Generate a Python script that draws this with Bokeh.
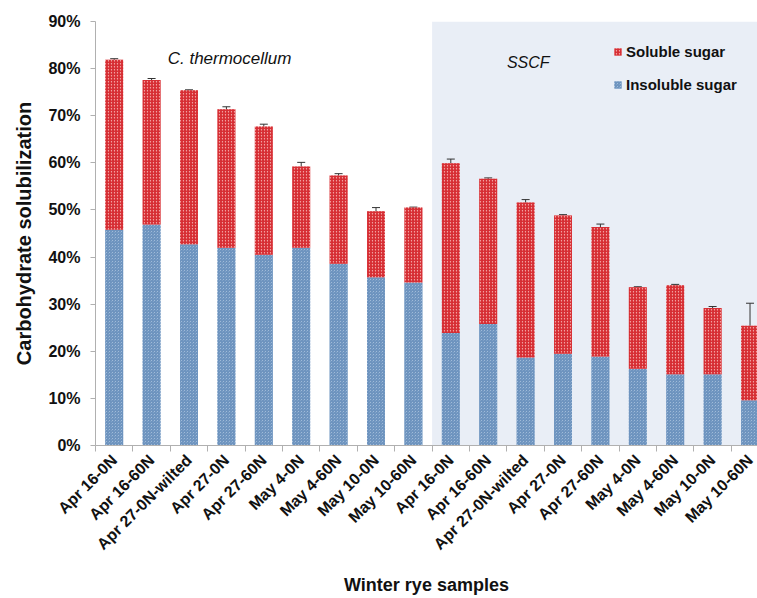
import numpy as np
from bokeh.plotting import figure
from bokeh.models import (ColumnDataSource, Range1d, FixedTicker, PrintfTickFormatter,
                          BoxAnnotation, Label, Legend, LegendItem, Whisker, TeeHead)
from bokeh.embed import file_html
from bokeh.resources import INLINE

# ---- data ----
samples = ["Apr 16-0N", "Apr 16-60N", "Apr 27-0N-wilted", "Apr 27-0N", "Apr 27-60N",
           "May 4-0N", "May 4-60N", "May 10-0N", "May 10-60N",
           "Apr 16-0N", "Apr 16-60N", "Apr 27-0N-wilted", "Apr 27-0N", "Apr 27-60N",
           "May 4-0N", "May 4-60N", "May 10-0N", "May 10-60N"]
total = [81.9, 77.6, 75.4, 71.4, 67.7, 59.2, 57.3, 49.7, 50.5,
         59.9, 56.6, 51.6, 48.8, 46.4, 33.6, 34.0, 29.2, 25.4]
insoluble = [45.8, 46.9, 42.7, 42.0, 40.5, 42.0, 38.6, 35.7, 34.6,
             23.9, 25.8, 18.7, 19.5, 18.9, 16.3, 15.1, 15.1, 9.6]
error = [0.2, 0.3, 0.1, 0.5, 0.5, 0.9, 0.4, 0.8, 0.1,
         0.9, 0.2, 0.6, 0.2, 0.6, 0.1, 0.2, 0.3, 4.8]
y_ticks = [0, 10, 20, 30, 40, 50, 60, 70, 80, 90]
group_labels = ["C. thermocellum", "SSCF"]
series_names = ["Soluble sugar", "Insoluble sugar"]

n = len(samples)
x = [i + 0.5 for i in range(n)]
soluble = [t - b for t, b in zip(total, insoluble)]
src = ColumnDataSource(dict(
    x=x, insoluble=insoluble, soluble=soluble, total=total,
    upper=[t + e for t, e in zip(total, error)],
    lower=[t - e for t, e in zip(total, error)],
))

FONT = "Liberation Sans"

p = figure(width=757, height=598, output_backend="svg", toolbar_location=None,
           x_range=Range1d(0, 17.7), y_range=Range1d(0, 90),
           min_border_left=95, min_border_right=0, min_border_top=21, min_border_bottom=153)
p.outline_line_color = None
p.xgrid.visible = False
p.ygrid.visible = False
p.background_fill_color = "white"
p.border_fill_color = "white"

# SSCF shaded region
p.add_layout(BoxAnnotation(left=9, right=17.7, bottom=0, top=90,
                           fill_color="#e9eef6", fill_alpha=1.0, line_color=None,
                           level="underlay"))

rs = p.vbar_stack(["insoluble", "soluble"], x="x", width=0.48, source=src,
                  fill_color=["#a9c2dd", "#f2a3a3"], line_color=None,
                  hatch_pattern=["criss_cross", "right_diagonal_line"],
                  hatch_color=["#6e94bf", "#d62a30"], hatch_scale=3, hatch_weight=1.3)

p.add_layout(Whisker(source=src, base="x", upper="upper", lower="lower",
                     line_color="#333333", line_width=1,
                     upper_head=TeeHead(size=8, line_color="#333333", line_width=1),
                     lower_head=TeeHead(size=8, line_color="#333333", line_width=1)))

# axes
p.yaxis.ticker = FixedTicker(ticks=y_ticks)
p.yaxis.formatter = PrintfTickFormatter(format="%d%%")
p.yaxis.minor_tick_line_color = None
p.yaxis.major_tick_in = 0
p.yaxis.major_tick_out = 5
p.yaxis.axis_line_color = "#b0b0b0"
p.yaxis.major_tick_line_color = "#b0b0b0"
p.yaxis.major_label_text_font = FONT
p.yaxis.major_label_text_font_style = "bold"
p.yaxis.major_label_text_font_size = "16px"
p.yaxis.major_label_text_color = "#111111"
p.yaxis.major_label_standoff = 10
p.yaxis.axis_label = "Carbohydrate solubilization"
p.yaxis.axis_label_text_font = FONT
p.yaxis.axis_label_text_font_style = "bold"
p.yaxis.axis_label_text_font_size = "20px"
p.yaxis.axis_label_text_color = "#111111"
p.yaxis.axis_label_standoff = 10

p.xaxis.ticker = FixedTicker(ticks=x, minor_ticks=list(range(n + 1)))
p.xaxis.major_label_overrides = {xx: s for xx, s in zip(x, samples)}
p.xaxis.major_tick_in = 0
p.xaxis.major_tick_out = 0
p.xaxis.minor_tick_in = 0
p.xaxis.minor_tick_out = 6
p.xaxis.minor_tick_line_color = "#b0b0b0"
p.xaxis.axis_line_color = "#b0b0b0"
p.xaxis.major_label_orientation = np.pi / 4
p.xaxis.major_label_text_font = FONT
p.xaxis.major_label_text_font_style = "bold"
p.xaxis.major_label_text_font_size = "16px"
p.xaxis.major_label_text_color = "#111111"
p.xaxis.major_label_standoff = 6
p.xaxis.axis_label = "Winter rye samples"
p.xaxis.axis_label_text_font = FONT
p.xaxis.axis_label_text_font_style = "bold"
p.xaxis.axis_label_text_font_size = "18px"
p.xaxis.axis_label_text_color = "#111111"
p.xaxis.axis_label_standoff = 13

# group labels
p.add_layout(Label(x=1.93, y=82.1, text=group_labels[0], text_font=FONT,
                   text_font_style="italic", text_font_size="17px",
                   text_baseline="middle", text_color="#111111"))
p.add_layout(Label(x=11.0, y=81.3, text=group_labels[1], text_font=FONT,
                   text_font_style="italic", text_font_size="16px",
                   text_baseline="middle", text_color="#111111"))

legend = Legend(items=[LegendItem(label=series_names[0], renderers=[rs[1]]),
                       LegendItem(label=series_names[1], renderers=[rs[0]])],
                location=(518, 352), orientation="vertical",
                glyph_width=9, glyph_height=9, label_height=16, spacing=16,
                label_standoff=4, padding=0, margin=0,
                border_line_alpha=0, background_fill_alpha=0,
                label_text_font=FONT, label_text_font_style="bold",
                label_text_font_size="15px", label_text_color="#111111")
p.add_layout(legend)

open("out.html", "w").write(file_html(p, INLINE))
